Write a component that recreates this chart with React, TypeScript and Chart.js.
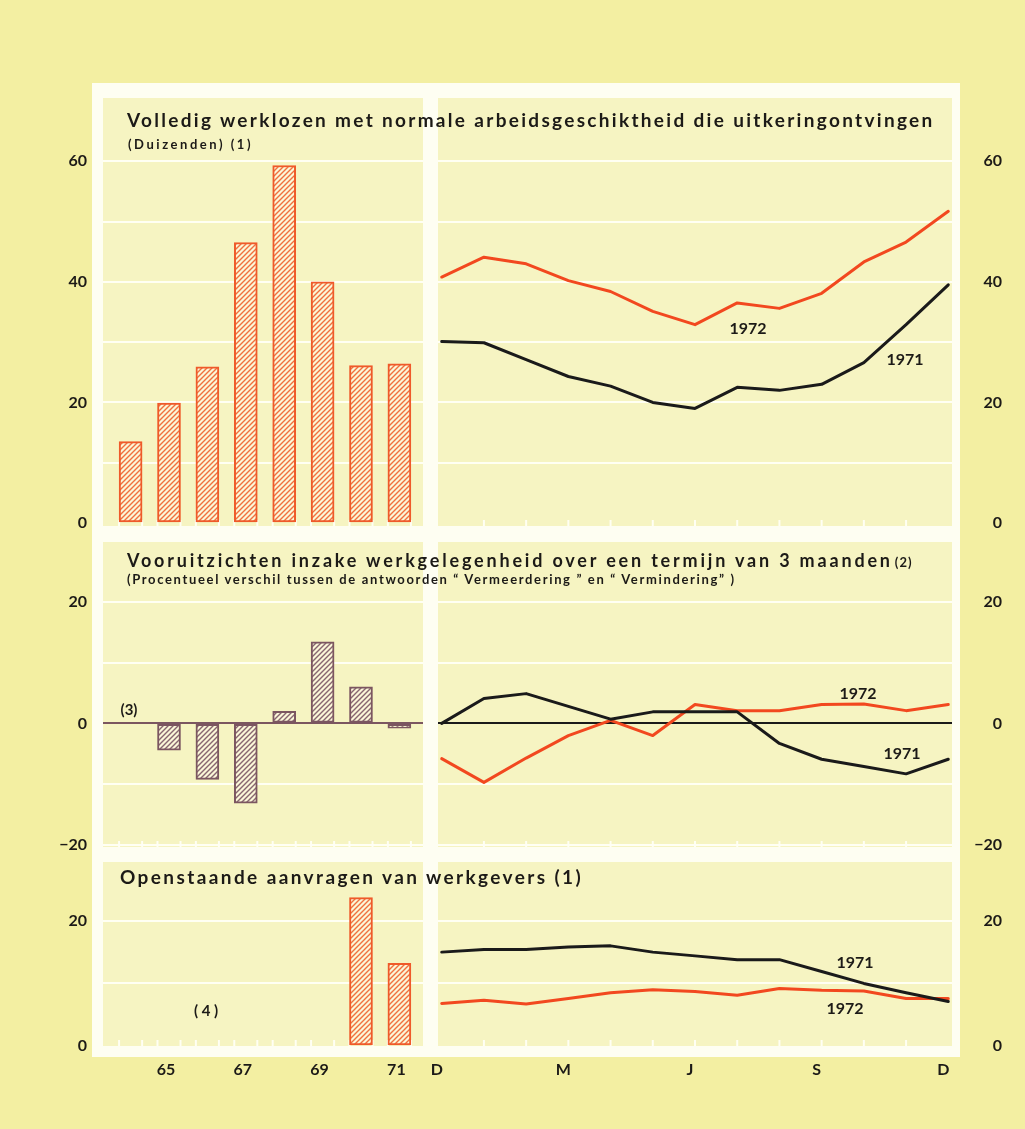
import React, { useEffect, useRef } from 'react';
import { Chart, registerables } from 'chart.js';

Chart.register(...registerables);

// ================= DATA =================
const years = ['64', '65', '66', '67', '68', '69', '70', '71'];
const labelledYears = ['65', '67', '69', '71'];
const months = ['D', 'J', 'F', 'M', 'A', 'M', 'J', 'J', 'A', 'S', 'O', 'N', 'D'];
const labelledMonthEvery = 3;

// Panel 1: Volledig werklozen (duizenden)
const unemployedByYear = [13.5, 19.9, 25.9, 46.5, 59.3, 40.0, 26.1, 26.4];
const unemployed1971 = [30.1, 29.9, 27.1, 24.3, 22.7, 20.0, 19.0, 22.5, 22.0, 23.0, 26.6, 32.9, 39.5];
const unemployed1972 = [40.8, 44.1, 43.0, 40.2, 38.4, 35.1, 32.9, 36.5, 35.6, 38.1, 43.3, 46.6, 51.7];
const unemployedTicks = [0, 10, 20, 30, 40, 50, 60];

// Panel 2: Vooruitzichten (procentueel verschil)
const outlookByYear = [null, -4.4, -9.2, -13.1, 2.0, 13.4, 6.0, -0.8];
const outlook1971 = [0, 4.1, 4.9, 2.8, 0.7, 1.9, 1.9, 1.9, -3.3, -5.9, -7.1, -8.3, -5.9];
const outlook1972 = [-5.8, -9.7, -5.7, -2.0, 0.5, -2.0, 3.1, 2.1, 2.1, 3.1, 3.2, 2.1, 3.1];
const outlookTicks = [-20, -10, 0, 10, 20];

// Panel 3: Openstaande aanvragen (duizenden)
const vacanciesByYear = [null, null, null, null, null, null, 23.7, 13.2];
const vacancies1971 = [15.0, 15.4, 15.4, 15.8, 16.0, 15.0, 14.4, 13.8, 13.8, 11.9, 10.0, 8.5, 7.1];
const vacancies1972 = [6.8, 7.3, 6.7, 7.6, 8.5, 9.0, 8.7, 8.1, 9.2, 8.9, 8.8, 7.6, 7.6];
const vacancyTicks = [0, 10, 20];

const tickLabelStep = 20;

// ================= STYLE =================
const FONT = 'Lato, "DejaVu Sans", sans-serif';
const BG = '#f3efa2';
const FRAME = '#fefef2';
const PANEL = '#f6f4c2';
const INK = '#1c1a17';
const RED = '#f2481f';
const BLACK = '#1a1a1a';
const ORANGE = '#ef5a2a';
const BROWN = '#7b5660';
const GRID = 'rgba(255,255,246,0.95)';
const tickFont = { family: FONT, weight: 'bold', size: 16 };

const measureCtx = document.createElement('canvas').getContext('2d');
function measure(text: string, font: string) {
  measureCtx.font = font;
  return measureCtx.measureText(text).width;
}

const fmt = (v: number) => (v < 0 ? '\u2212' + Math.abs(v) : String(v));

function hatch(line: string, bg: string) {
  const s = 5;
  const c = document.createElement('canvas');
  c.width = s;
  c.height = s;
  const g = c.getContext('2d');
  g.fillStyle = bg;
  g.fillRect(0, 0, s, s);
  g.strokeStyle = line;
  g.lineWidth = 1.4;
  g.beginPath();
  g.moveTo(-1, s + 1);
  g.lineTo(s + 1, -1);
  g.moveTo(-1, 1);
  g.lineTo(1, -1);
  g.moveTo(s - 1, s + 1);
  g.lineTo(s + 1, s - 1);
  g.stroke();
  return g.createPattern(c, 'repeat');
}

// small white tick marks at the bottom edge of each panel
const bottomTicks = {
  id: 'bottomTicks',
  beforeDatasetsDraw(chart: any, _args: any, opts: any) {
    const xs = chart.scales.x;
    const area = chart.chartArea;
    const ctx = chart.ctx;
    ctx.save();
    ctx.strokeStyle = GRID;
    ctx.lineWidth = 2;
    (opts.values || []).forEach((v: number) => {
      const px = xs.getPixelForValue(v);
      ctx.beginPath();
      ctx.moveTo(px, area.bottom);
      ctx.lineTo(px, area.bottom - 6);
      ctx.stroke();
    });
    ctx.restore();
  },
};

// ================= GEOMETRY =================
const LEFT_CANVAS = { x: 30, w: 393 }; // chart area 103..423
const RIGHT_CANVAS = { x: 420, w: 584 }; // chart area 438..952
const rows = [
  { top: 98, bottom: 526, canvasBottom: 540, min: -0.5, max: 70.5, ticks: unemployedTicks, xAxis: false },
  { top: 542, bottom: 847, canvasBottom: 860, min: -20.33, max: 29.84, ticks: outlookTicks, xAxis: false },
  { top: 862, bottom: 1046, canvasBottom: 1095, min: 0, max: 29.4, ticks: vacancyTicks, xAxis: true },
];

function makeY(row: any, side: 'left' | 'right', zeroColor: string | null) {
  return {
    type: 'linear',
    position: side,
    min: row.min,
    max: row.max,
    bounds: 'data',
    border: { display: false },
    grid: {
      drawTicks: false,
      color: (c: any) => (c.tick && c.tick.value === 0 ? zeroColor || 'rgba(0,0,0,0)' : GRID),
      lineWidth: 2,
    },
    ticks: {
      autoSkip: false,
      color: INK,
      font: tickFont,
      padding: side === 'left' ? 16 : 0,
      crossAlign: side === 'left' ? 'near' : 'far',
      callback: (v: number) => (v % tickLabelStep === 0 ? fmt(v) : ''),
    },
    afterBuildTicks: (s: any) => {
      s.ticks = row.ticks.map((v: number) => ({ value: v }));
    },
    afterFit: (s: any) => {
      s.width = side === 'left' ? 73 : 50;
      s.paddingTop = 0;
      s.paddingBottom = 0;
    },
  };
}

function makeX(kind: 'years' | 'months', show: boolean) {
  const isYears = kind === 'years';
  const labels = isYears ? years : months;
  const idx = isYears
    ? labelledYears.map((y) => years.indexOf(y))
    : months.map((_, i) => i).filter((i) => i % labelledMonthEvery === 0);
  return {
    type: 'linear',
    min: isYears ? -0.719 : -0.088,
    max: isYears ? 7.615 : 12.088,
    bounds: 'data',
    offset: false,
    display: show,
    border: { display: false },
    grid: { display: false, drawTicks: false, offset: false },
    ticks: {
      autoSkip: false,
      maxRotation: 0,
      minRotation: 0,
      padding: 14,
      labelOffset: isYears ? -3 : -5,
      color: INK,
      font: tickFont,
      callback: (v: number) => labels[Math.round(v)] ?? '',
    },
    afterBuildTicks: (s: any) => {
      s.ticks = idx.map((v) => ({ value: v }));
    },
    afterFit: (s: any) => {
      if (show) s.height = 49;
      s.paddingLeft = 0;
      s.paddingRight = 0;
    },
  };
}

const baseOptions = (row: any, side: 'left' | 'right', tickValues: number[]) => ({
  responsive: false,
  maintainAspectRatio: false,
  animation: false,
  events: [],
  layout: {
    padding: {
      top: 8,
      bottom: row.xAxis ? 0 : row.canvasBottom - row.bottom,
      left: side === 'left' ? 0 : 18,
      right: side === 'left' ? 0 : 2,
    },
  },
  plugins: {
    legend: { display: false },
    tooltip: { enabled: false },
    bottomTicks: { values: tickValues },
  },
});

// bar edges for the small bottom ticks of the yearly panels
const yearEdgeTicks = years.flatMap((_, i) => [i - 0.3, i + 0.3]);
const monthTicks = months.map((_, i) => i).slice(1, -1);

function barConfig(rowIdx: number, values: (number | null)[], color: string, zeroColor: string | null) {
  const row = rows[rowIdx];
  return () => ({
    type: 'bar',
    plugins: [bottomTicks],
    data: {
      datasets: [
        {
          data: values.map((v, i) => ({ x: i, y: v })),
          backgroundColor: hatch(color === ORANGE ? '#f0703e' : '#876570', '#fbf7d8'),
          borderColor: color,
          borderWidth: 2,
          borderSkipped: false,
          barThickness: 23,
        },
      ],
    },
    options: {
      ...baseOptions(row, 'left', yearEdgeTicks),
      scales: { x: makeX('years', row.xAxis), y: makeY(row, 'left', zeroColor) },
    },
  });
}

function lineConfig(rowIdx: number, s1971: number[], s1972: number[], zeroColor: string | null) {
  const row = rows[rowIdx];
  const ds = (vals: number[], color: string) => ({
    data: vals.map((v, i) => ({ x: i, y: v })),
    borderColor: color,
    borderWidth: 3,
    pointRadius: 0,
    tension: 0,
    fill: false,
    clip: false,
    borderJoinStyle: 'round',
    borderCapStyle: 'round',
  });
  return () => ({
    type: 'line',
    plugins: [bottomTicks],
    data: { datasets: [ds(s1971, BLACK), ds(s1972, RED)] },
    options: {
      ...baseOptions(row, 'right', monthTicks),
      scales: { x: makeX('months', row.xAxis), y: makeY(row, 'right', zeroColor) },
    },
  });
}

function ChartBox({ x, w, rowIdx, build }: any) {
  const ref = useRef<HTMLCanvasElement>(null);
  const row = rows[rowIdx];
  const top = row.top - 8;
  const h = row.canvasBottom - top;
  useEffect(() => {
    const chart = new Chart(ref.current as HTMLCanvasElement, build() as any);
    return () => chart.destroy();
  }, []);
  return (
    <canvas
      ref={ref}
      width={w}
      height={h}
      style={{ position: 'absolute', left: x, top, width: w, height: h, display: 'block' }}
    />
  );
}

function FitText({ text, x, cy, width, size, extra }: any) {
  const font = `bold ${size}px ${FONT}`;
  const w = measure(text, font);
  const ls = (width - w) / text.length;
  return (
    <div
      style={{
        position: 'absolute',
        left: x,
        top: cy - 0.53 * size,
        fontFamily: FONT,
        fontWeight: 700,
        fontSize: size,
        lineHeight: 1,
        letterSpacing: ls,
        whiteSpace: 'nowrap',
        color: INK,
      }}
    >
      {text}
      {extra}
    </div>
  );
}

function Tag({ text, cx, cy, size = 16 }: any) {
  return (
    <div
      style={{
        position: 'absolute',
        left: cx,
        top: cy,
        transform: 'translate(-50%, -50%)',
        fontFamily: FONT,
        fontWeight: 700,
        fontSize: size,
        lineHeight: 1,
        whiteSpace: 'pre',
        color: INK,
      }}
    >
      {text}
    </div>
  );
}

export default function App() {
  const panels = [];
  rows.forEach((r, i) => {
    panels.push(
      <div key={'l' + i} style={{ position: 'absolute', left: 103, top: r.top, width: 320, height: r.bottom - r.top, background: PANEL }} />,
      <div key={'r' + i} style={{ position: 'absolute', left: 438, top: r.top, width: 514, height: r.bottom - r.top, background: PANEL }} />
    );
  });
  return (
    <div style={{ position: 'absolute', left: 0, top: 0, width: 1025, height: 1129, background: BG, overflow: 'hidden' }}>
      <div style={{ position: 'absolute', left: 92, top: 83, width: 868, height: 974, background: FRAME }} />
      {panels}

      <ChartBox x={LEFT_CANVAS.x} w={LEFT_CANVAS.w} rowIdx={0} build={barConfig(0, unemployedByYear, ORANGE, null)} />
      <ChartBox x={RIGHT_CANVAS.x} w={RIGHT_CANVAS.w} rowIdx={0} build={lineConfig(0, unemployed1971, unemployed1972, null)} />
      <ChartBox x={LEFT_CANVAS.x} w={LEFT_CANVAS.w} rowIdx={1} build={barConfig(1, outlookByYear, BROWN, BROWN)} />
      <ChartBox x={RIGHT_CANVAS.x} w={RIGHT_CANVAS.w} rowIdx={1} build={lineConfig(1, outlook1971, outlook1972, BLACK)} />
      <ChartBox x={LEFT_CANVAS.x} w={LEFT_CANVAS.w} rowIdx={2} build={barConfig(2, vacanciesByYear, ORANGE, null)} />
      <ChartBox x={RIGHT_CANVAS.x} w={RIGHT_CANVAS.w} rowIdx={2} build={lineConfig(2, vacancies1971, vacancies1972, null)} />

      <FitText text="Volledig werklozen met normale arbeidsgeschiktheid die uitkeringontvingen" x={127} cy={120.5} width={808} size={19} />
      <FitText text="(Duizenden) (1)" x={128} cy={144.5} width={125} size={13} />
      <FitText
        text="Vooruitzichten inzake werkgelegenheid over een termijn van 3 maanden"
        x={127}
        cy={561}
        width={767}
        size={18}
        extra={<span style={{ fontSize: 13, letterSpacing: 1, marginLeft: 2 }}>(2)</span>}
      />
      <FitText
        text={'(Procentueel verschil tussen de antwoorden \u201c Vermeerdering \u201d en \u201c Vermindering\u201d )'}
        x={127}
        cy={580}
        width={610}
        size={13}
      />
      <FitText text="Openstaande aanvragen van werkgevers (1)" x={120} cy={877} width={464} size={19} />

      <Tag text="1972" cx={748} cy={328} />
      <Tag text="1971" cx={905} cy={359} />
      <Tag text="1972" cx={858} cy={693} />
      <Tag text="1971" cx={902} cy={753} />
      <Tag text="1971" cx={855} cy={962} />
      <Tag text="1972" cx={845} cy={1008} />
      <Tag text="(3)" cx={129} cy={709} size={15} />
      <Tag text="( 4 )" cx={206} cy={1010} size={15} />
    </div>
  );
}
